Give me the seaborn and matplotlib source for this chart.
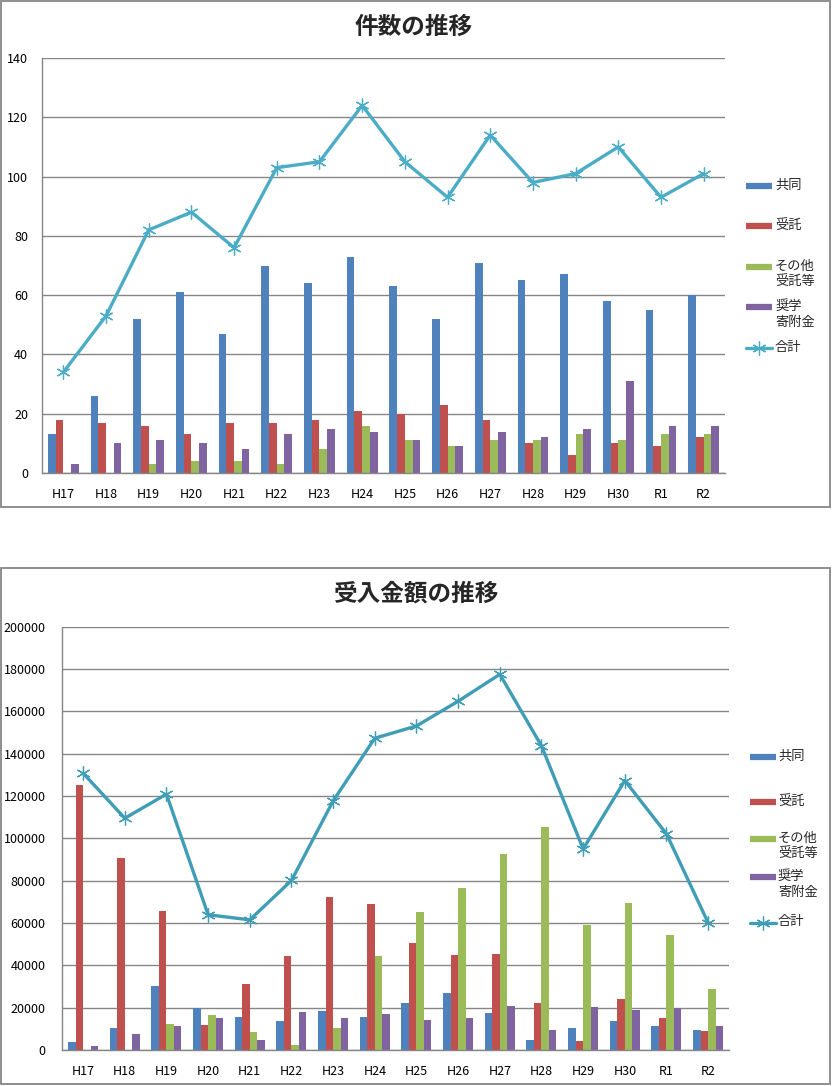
import matplotlib
matplotlib.use("Agg")
import matplotlib.pyplot as plt
import numpy as np
import pandas as pd
import seaborn as sns
from matplotlib.lines import Line2D
from matplotlib.patches import Rectangle

# ---------------- data ----------------
years = ["H17", "H18", "H19", "H20", "H21", "H22", "H23", "H24",
         "H25", "H26", "H27", "H28", "H29", "H30", "R1", "R2"]
series_names = ["共同", "受託", "その他受託等", "奨学寄附金"]
legend_labels = ["共同", "受託", "その他\n受託等", "奨学\n寄附金", "合計"]

count_kyodo = [13, 26, 52, 61, 47, 70, 64, 73, 63, 52, 71, 65, 67, 58, 55, 60]
count_jutaku = [18, 17, 16, 13, 17, 17, 18, 21, 20, 23, 18, 10, 6, 10, 9, 12]
count_sonota = [0, 0, 3, 4, 4, 3, 8, 16, 11, 9, 11, 11, 13, 11, 13, 13]
count_shogaku = [3, 10, 11, 10, 8, 13, 15, 14, 11, 9, 14, 12, 15, 31, 16, 16]
count_total = [34, 53, 82, 88, 76, 103, 105, 124, 105, 93, 114, 98, 101, 110, 93, 101]

amt_kyodo = [3600, 10500, 30400, 19700, 15700, 13800, 18600, 15700,
             22300, 27100, 17600, 4900, 10500, 13800, 11500, 9600]
amt_jutaku = [125000, 90800, 65800, 12000, 31300, 44500, 72400, 69100,
              50700, 45000, 45500, 22300, 4400, 24200, 15300, 9100]
amt_sonota = [0, 0, 12400, 16700, 8700, 2500, 10500, 44500,
              65300, 76600, 92700, 105400, 59200, 69600, 54400, 29000]
amt_shogaku = [2000, 7700, 11500, 15300, 4900, 18100, 15300, 17200,
               14300, 15300, 20900, 9600, 20500, 19000, 20000, 11500]
amt_total = [130800, 109500, 120900, 63900, 61500, 80100, 117700, 147300,
             153100, 164800, 177500, 143700, 95000, 127300, 102100, 60100]

titles = ["件数の推移", "受入金額の推移"]

# ---------------- style ----------------
bar_colors = ["#4F81BD", "#C0504D", "#9BBB59", "#8064A2"]
line_colors = ["#4BACC6", "#3F9DB5"]
grid_color = "#868686"

sns.set_style("white")
plt.rcParams["font.family"] = ["Noto Sans CJK JP", "DejaVu Sans"]

W, H = 832, 1086
fig = plt.figure(figsize=(W / 100, H / 100), dpi=100)


def fx(px):
    return px / W


def fy(py):
    return 1 - py / H


def long_df(cols):
    return pd.DataFrame({
        "year": np.repeat(years, len(series_names)),
        "series": series_names * len(years),
        "value": np.array(cols).T.reshape(-1),
    })


def draw(ax, cols, total, lcolor, ymax, ystep, xpad, ypad):
    df = long_df(cols)
    sns.barplot(data=df, x="year", y="value", hue="series", order=years,
                hue_order=series_names, palette=bar_colors, width=0.72,
                gap=0, saturation=1, errorbar=None, legend=False, ax=ax,
                linewidth=0, zorder=2)
    sns.pointplot(x=years, y=total, order=years, color=lcolor,
                  marker=(6, 2, 0), markersize=10, markeredgewidth=0.9,
                  markeredgecolor=lcolor, linewidth=2.4, errorbar=None,
                  ax=ax, zorder=4)
    ax.set_ylim(0, ymax)
    ax.set_xlim(-0.5, len(years) - 0.5)
    ax.set_yticks(np.arange(0, ymax + 1, ystep))
    ax.yaxis.grid(True, color=grid_color, lw=1)
    ax.xaxis.grid(False)
    ax.set_axisbelow(True)
    for s in ["top", "right"]:
        ax.spines[s].set_visible(False)
    for s in ["left", "bottom"]:
        ax.spines[s].set_color(grid_color)
        ax.spines[s].set_linewidth(1)
    ax.tick_params(axis="both", length=0, labelsize=9, colors="#000000")
    ax.tick_params(axis="x", pad=xpad)
    ax.tick_params(axis="y", pad=ypad)
    ax.set_xlabel("")
    ax.set_ylabel("")


def legend(x0, x1, xt, ys, lcolor):
    for i, lab in enumerate(legend_labels):
        y = ys[i]
        if i < 4:
            fig.add_artist(Line2D([fx(x0), fx(x1)], [fy(y), fy(y)],
                                  transform=fig.transFigure, lw=4.5,
                                  color=bar_colors[i], solid_capstyle="butt"))
        else:
            fig.add_artist(Line2D([fx(x0), fx(x1)], [fy(y), fy(y)],
                                  transform=fig.transFigure, lw=2.4,
                                  color=lcolor))
            fig.add_artist(Line2D([fx((x0 + x1) / 2)], [fy(y)],
                                  transform=fig.transFigure, lw=0,
                                  marker=(6, 2, 0), markersize=10,
                                  markeredgewidth=0.9, markeredgecolor=lcolor))
        fig.text(fx(xt), fy(y - 7.5), lab, ha="left", va="top",
                 fontsize=9.5, linespacing=1.3)


# ---------------- top chart ----------------
ax1 = fig.add_axes([fx(42), fy(473), fx(725 - 42), (473 - 58) / H])
draw(ax1, [count_kyodo, count_jutaku, count_sonota, count_shogaku],
     count_total, line_colors[0], 140, 20, 11, 10)
fig.text(fx(414), fy(27), titles[0], ha="center", va="center",
         fontsize=17, fontweight="bold")
legend(746, 772, 775, [186, 226, 267, 307, 348], line_colors[0])
fig.add_artist(Rectangle((fx(1), fy(507)), fx(829), 506 / H,
                         transform=fig.transFigure, fill=False,
                         ec=grid_color, lw=1.3))

# ---------------- bottom chart ----------------
ax2 = fig.add_axes([fx(62.3), fy(1050), fx(729 - 62.3), (1050 - 626.7) / H])
draw(ax2, [amt_kyodo, amt_jutaku, amt_sonota, amt_shogaku],
     amt_total, line_colors[1], 200000, 20000, 11, 12)
fig.text(fx(416), fy(594), titles[1], ha="center", va="center",
         fontsize=17, fontweight="bold")
legend(750, 776, 778, [757, 802, 839, 877, 923], line_colors[1])
fig.add_artist(Rectangle((fx(1), fy(1084)), fx(829), (1084 - 568) / H,
                         transform=fig.transFigure, fill=False,
                         ec=grid_color, lw=1.3))

fig.savefig("out.png", dpi=100)
